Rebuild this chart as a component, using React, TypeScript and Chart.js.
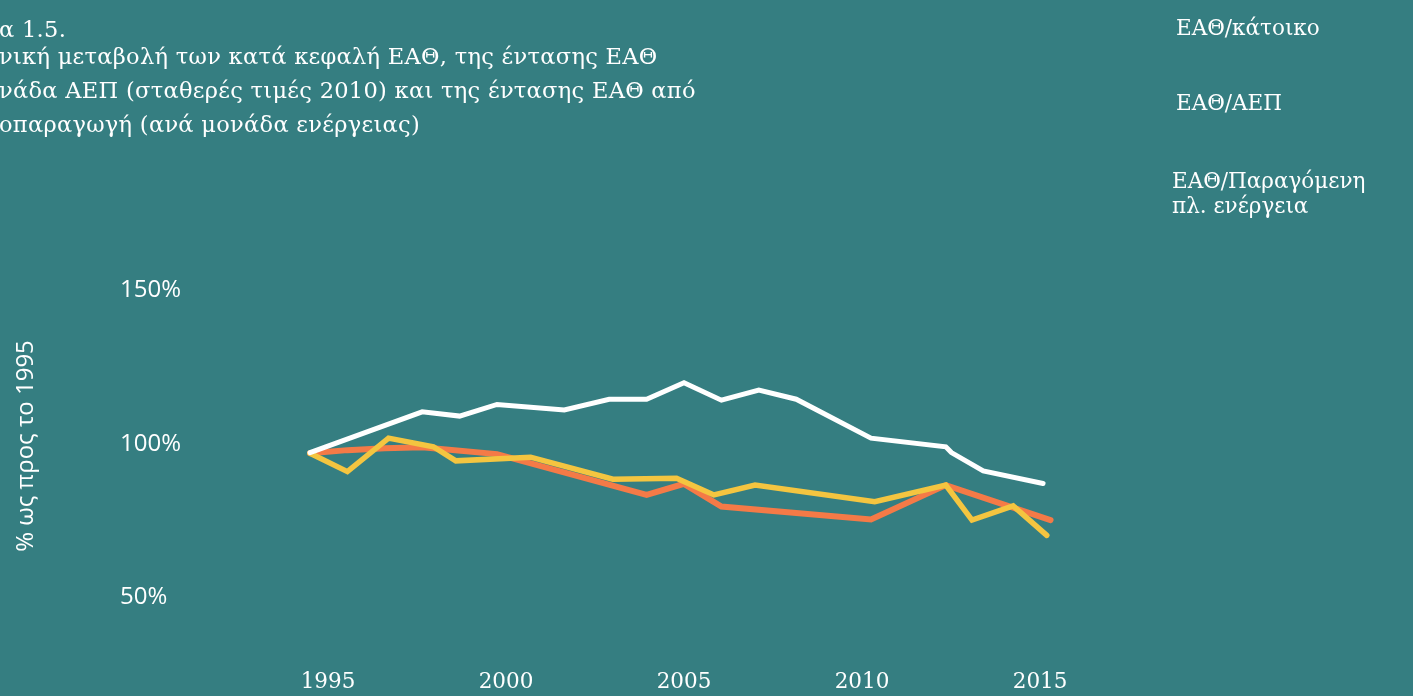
import React, { useEffect, useRef } from "react";
import { Chart, registerables } from "chart.js";

Chart.register(...registerables);

// ---------- data ----------
const perCapitaYears = [1995, 1998, 1999, 2000, 2001.8, 2003, 2004, 2005, 2006, 2007, 2008, 2010, 2012, 2012.15, 2013, 2014.6];
const perCapitaValues = [97.2, 110.5, 109.1, 112.9, 111.1, 114.6, 114.6, 120.0, 114.3, 117.6, 114.6, 101.9, 99.1, 97.2, 91.2, 87.1];

const perGdpYears = [1995, 1996, 1997, 1998, 2000, 2004, 2005, 2006, 2010, 2012, 2014.8];
const perGdpValues = [97.0, 98.0, 98.6, 98.9, 96.7, 83.4, 87.0, 79.6, 75.4, 86.6, 75.2];

const perEnergyYears = [1995, 1996, 1997.1, 1998.3, 1998.9, 2000.9, 2003.1, 2004.8, 2005.8, 2006.9, 2010.1, 2012, 2012.7, 2013.8, 2014.7];
const perEnergyValues = [97.0, 91.0, 101.9, 99.1, 94.5, 95.7, 88.5, 88.8, 83.4, 86.6, 81.2, 86.6, 75.2, 79.8, 70.2];

const xTickYears = [1995, 2000, 2005, 2010, 2015];
const yTickValues = [50, 100, 150];

const seriesLabels = ["ΕΑΘ/κάτοικο", "ΕΑΘ/ΑΕΠ", "ΕΑΘ/Παραγόμενη πλ. ενέργεια"];
const legendLines = [["ΕΑΘ/κάτοικο"], ["ΕΑΘ/ΑΕΠ"], ["ΕΑΘ/Παραγόμενη", "πλ. ενέργεια"]];
const titleLines = [
  "α 1.5.",
  "νική μεταβολή των κατά κεφαλή ΕΑΘ, της έντασης ΕΑΘ",
  "νάδα ΑΕΠ (σταθερές τιμές 2010) και της έντασης ΕΑΘ από",
  "οπαραγωγή (ανά μονάδα ενέργειας)",
];
const yAxisTitle = "% ως προς το 1995";

// ---------- styles ----------
const BG = "#357e81";
const TEXT = "#ffffff";
const WHITE = "#ffffff";
const ORANGE = "#f47a47";
const YELLOW = "#f4c540";

const toPoints = (xs: number[], ys: number[]) => xs.map((x, i) => ({ x, y: ys[i] }));

const overlayText = {
  id: "overlayText",
  afterDraw(chart: any) {
    const ctx: CanvasRenderingContext2D = chart.ctx;
    ctx.save();
    ctx.fillStyle = TEXT;
    ctx.textAlign = "left";
    ctx.textBaseline = "alphabetic";

    // title (cut at the left edge as in the source)
    ctx.font = "22.5px 'DejaVu Serif'";
    (ctx as any).letterSpacing = "0.3px";
    const titleBaselines = [37, 64, 98, 132];
    titleLines.forEach((t, i) => ctx.fillText(t, -1, titleBaselines[i]));
    (ctx as any).letterSpacing = "0px";

    // legend (text only)
    ctx.font = "21.5px 'DejaVu Serif'";
    const legendPos = [
      { x: 1176, y: [34.5] },
      { x: 1176, y: [110] },
      { x: 1172, y: [188, 213] },
    ];
    legendLines.forEach((lines, i) => {
      lines.forEach((l, j) => ctx.fillText(l, legendPos[i].x, legendPos[i].y[j]));
    });

    // y axis title
    ctx.translate(33, 446);
    ctx.rotate(-Math.PI / 2);
    ctx.textAlign = "center";
    ctx.font = "24px 'Open Sans'";
    ctx.fillText(yAxisTitle, 0, 0);
    ctx.restore();
  },
};

export default function App() {
  const ref = useRef<HTMLCanvasElement | null>(null);

  useEffect(() => {
    document.body.style.margin = "0";
    document.body.style.background = BG;
    const canvas = ref.current;
    if (!canvas) return;
    const common = {
      pointRadius: 0,
      pointHoverRadius: 0,
      tension: 0,
      clip: false as any,
      borderJoinStyle: "miter" as const,
      borderCapStyle: "round" as const,
      xAxisID: "x",
      yAxisID: "y",
    };
    const chart = new Chart(canvas, {
      type: "line",
      data: {
        datasets: [
          { ...common, label: seriesLabels[0], data: toPoints(perCapitaYears, perCapitaValues), borderColor: WHITE, borderWidth: 5 },
          { ...common, label: seriesLabels[2], data: toPoints(perEnergyYears, perEnergyValues), borderColor: YELLOW, borderWidth: 5.5 },
          { ...common, label: seriesLabels[1], data: toPoints(perGdpYears, perGdpValues), borderColor: ORANGE, borderWidth: 6 },
        ],
      },
      options: {
        responsive: false,
        animation: false,
        devicePixelRatio: 1,
        layout: { padding: { left: 120, right: 353, top: 229.3, bottom: 0 } },
        plugins: { legend: { display: false }, tooltip: { enabled: false }, title: { display: false } },
        events: [],
        scales: {
          x: { type: "linear", display: false, min: 1995, max: 2015.053 },
          x2: {
            type: "linear",
            position: "bottom",
            min: 1994.494,
            max: 2015.56,
            afterBuildTicks: (s: any) => {
              s.ticks = xTickYears.map((v) => ({ value: v }));
            },
            afterFit: (s: any) => {
              s.height = 37.3;
            },
            grid: { display: false, drawTicks: false },
            border: { display: false },
            ticks: {
              autoSkip: false,
              maxRotation: 0,
              padding: 10.7,
              color: TEXT,
              font: { family: "'DejaVu Serif'", size: 21.5 },
              callback: (v: any) => String(v),
            },
          },
          y: {
            type: "linear",
            position: "left",
            min: 30,
            max: 170,
            afterBuildTicks: (s: any) => {
              s.ticks = yTickValues.map((v) => ({ value: v }));
            },
            afterFit: (s: any) => {
              s.width = 190;
            },
            grid: { display: false, drawTicks: false },
            border: { display: false },
            ticks: {
              crossAlign: "far",
              color: TEXT,
              font: { family: "'Open Sans'", size: 24 },
              callback: (v: any) => v + "%",
            },
          },
        },
      },
      plugins: [overlayText],
    });
    return () => chart.destroy();
  }, []);

  return (
    <div style={{ position: "absolute", left: 0, top: 0, width: 1413, height: 696, background: BG, overflow: "hidden" }}>
      <canvas ref={ref} width={1413} height={696} style={{ display: "block" }} />
    </div>
  );
}
